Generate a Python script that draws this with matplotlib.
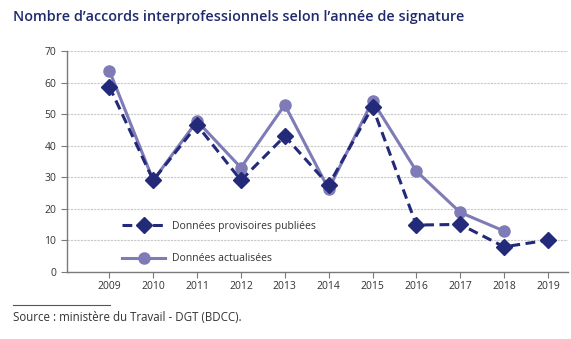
import matplotlib
matplotlib.use("Agg")
import matplotlib.pyplot as plt

years = [2009, 2010, 2011, 2012, 2013, 2014, 2015, 2016, 2017, 2018, 2019]
provisoires = [58.7, 29, 46.5, 29, 43, 27.5, 52.3, 14.8, 15, 7.9, 10]
actual_years = years[:-1]
actualisees = [63.8, 29, 47.8, 33, 52.9, 26.2, 54.2, 31.9, 18.8, 12.9]

navy = "#232a7a"
lavender = "#7e7bb6"
grey = "#7a7a7a"

plt.rcParams["font.family"] = ["Open Sans", "DejaVu Sans"]

fig = plt.figure(figsize=(5.71, 3.39), dpi=100)
ax = fig.add_axes([0.117, 0.1985, 0.878, 0.651])

ax.plot(years, provisoires, color=navy, linestyle=(0, (3.2, 1.8)), linewidth=2.2,
        marker="D", markersize=8, label="Données provisoires publiées", zorder=3)
ax.plot(actual_years, actualisees, color=lavender, linewidth=2.2,
        marker="o", markersize=8, label="Données actualisées", zorder=2)

ax.set_xlim(2008.03, 2019.46)
ax.set_ylim(0, 70)
ax.set_yticks(range(0, 71, 10))
ax.set_xticks(years)
ax.grid(axis="y", color="#c8c8c8", linestyle=(0, (2, 1)), linewidth=0.8)
ax.set_axisbelow(True)
for side in ("top", "right"):
    ax.spines[side].set_visible(False)
for side in ("left", "bottom"):
    ax.spines[side].set_color(grey)
    ax.spines[side].set_linewidth(1.0)
ax.tick_params(axis="both", colors=grey, labelcolor="#333333", labelsize=7.5, length=4, width=0.8)
ax.tick_params(axis="x", pad=3)

leg = ax.legend(loc="lower left", bbox_to_anchor=(0.095, 0.0), frameon=False, fontsize=7.5,
                handlelength=4.2, labelspacing=2.1, handletextpad=0.6, borderaxespad=0.3)
for t in leg.get_texts():
    t.set_color("#333333")

fig.text(0.023, 0.95, "Nombre d\u2019accords interprofessionnels selon l\u2019année de signature",
         color="#1f2a6e", fontsize=10.4, fontweight="semibold", va="center", ha="left")

fig.add_artist(plt.Line2D([0.023, 0.193], [0.1, 0.1], color="#555555", linewidth=0.8))
fig.text(0.023, 0.062, "Source : ministère du Travail - DGT (BDCC).", color="#333333",
         fontsize=8.3, va="center", ha="left")

fig.savefig("out.png", dpi=100)
